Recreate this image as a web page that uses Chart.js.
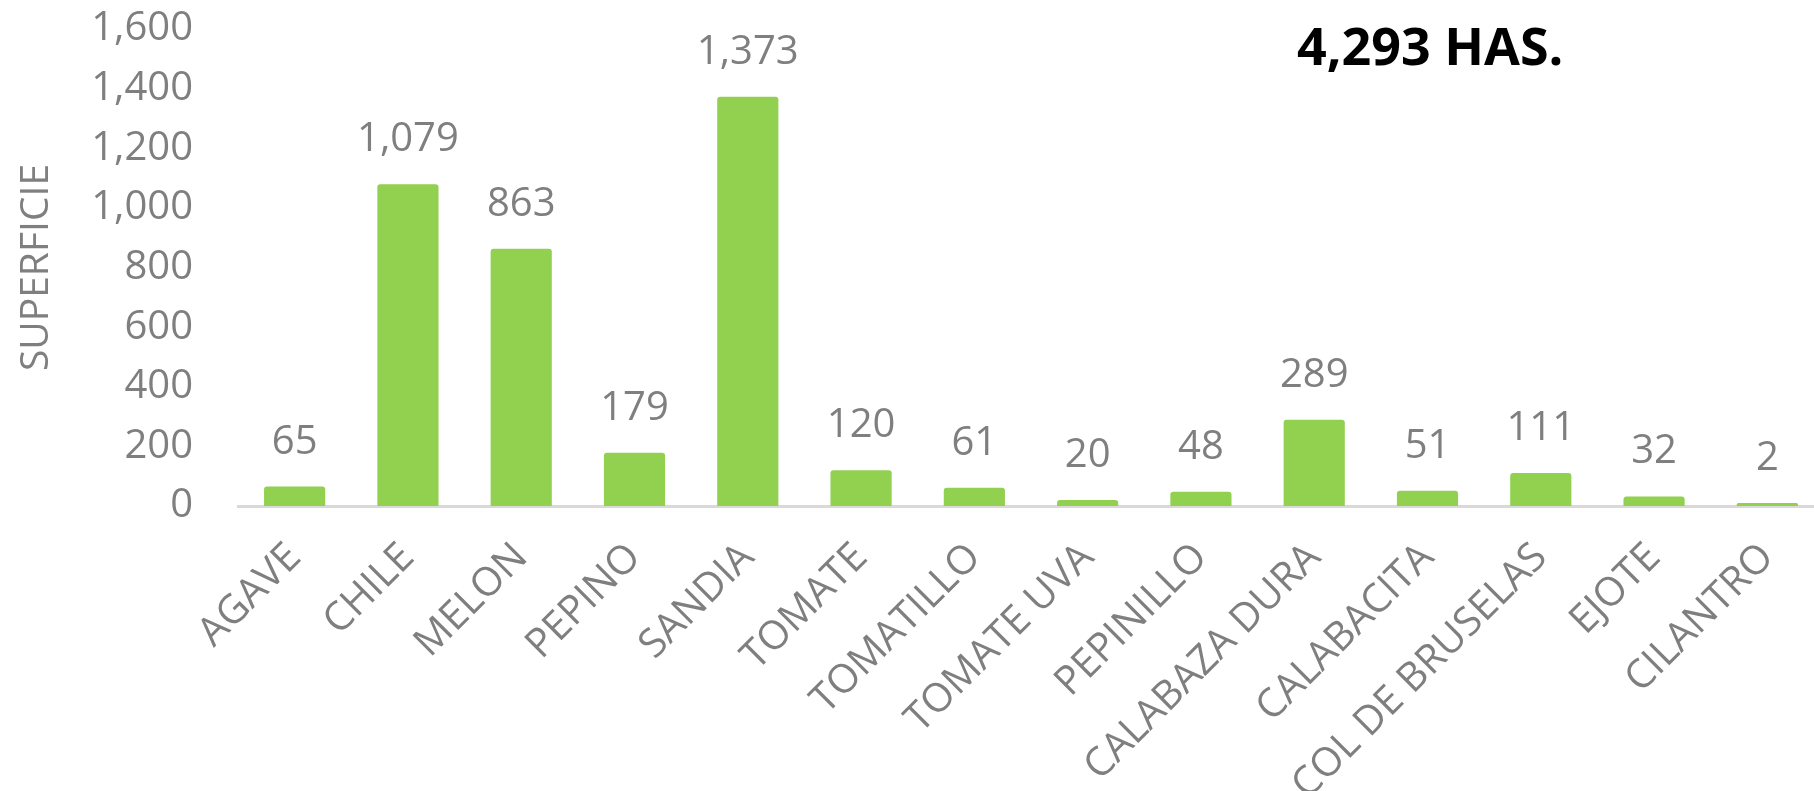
<!DOCTYPE html>
<html>
<head>
<meta charset="utf-8">
<script src="https://cdn.jsdelivr.net/npm/chart.js@4"></script>
<style>
  html, body { margin: 0; padding: 0; background: #fff; overflow: hidden; }
  canvas { display: block; }
</style>
</head>
<body>
<canvas id="superficieChart" width="1824" height="791"></canvas>
<script>
const cultivos = ['AGAVE', 'CHILE', 'MELON', 'PEPINO', 'SANDIA', 'TOMATE', 'TOMATILLO', 'TOMATE UVA',
    'PEPINILLO', 'CALABAZA DURA', 'CALABACITA', 'COL DE BRUSELAS', 'EJOTE', 'CILANTRO'];
const superficie = [65, 1079, 863, 179, 1373, 120, 61, 20, 48, 289, 51, 111, 32, 2];
const yTicks = [0, 200, 400, 600, 800, 1000, 1200, 1400, 1600];

const gris = '#7f7f7f';
const fuente = 'Open Sans';
const total = superficie.reduce((a, b) => a + b, 0);

// etiquetas sobre cada barra + total en la esquina
const etiquetas = {
    id: 'etiquetas',
    afterDatasetsDraw(chart) {
        const ctx = chart.ctx;
        ctx.save();
        ctx.fillStyle = gris;
        ctx.font = '40px "' + fuente + '"';
        ctx.textAlign = 'center';
        ctx.textBaseline = 'alphabetic';
        chart.getDatasetMeta(0).data.forEach((bar, i) => {
            ctx.fillText(superficie[i].toLocaleString('en-US'), bar.x, bar.y - 33);
        });
        ctx.fillStyle = '#000';
        ctx.font = 'bold 52px "' + fuente + '"';
        ctx.textAlign = 'left';
        ctx.fillText(total.toLocaleString('en-US') + ' HAS.', 1297, 65);
        ctx.restore();
    }
};

const ctx = document.getElementById('superficieChart').getContext('2d');
const superficieChart = new Chart(ctx, {
    type: 'bar',
    data: {
        labels: cultivos,
        datasets: [{
            label: 'Superficie',
            data: superficie,
            backgroundColor: '#92d050',
            borderRadius: { topLeft: 3, topRight: 3 },
            borderSkipped: 'bottom',
            barPercentage: 0.54,
            categoryPercentage: 1,
            minBarLength: 3
        }]
    },
    options: {
        responsive: false,
        devicePixelRatio: 1,
        animation: false,
        layout: { padding: { top: 29, left: 0, right: 0, bottom: 0 } },
        plugins: {
            legend: { display: false },
            tooltip: { enabled: false }
        },
        scales: {
            x: {
                grid: { display: false, drawTicks: false },
                border: { display: true, color: '#d9d9d9', width: 3 },
                ticks: {
                    color: gris,
                    font: { family: fuente, size: 40 },
                    minRotation: 45,
                    maxRotation: 45,
                    autoSkip: false,
                    padding: 28
                },
                afterFit(scale) {
                    scale.height = 285;
                    scale.paddingLeft = 0;
                    scale.paddingRight = 0;
                }
            },
            y: {
                min: 0,
                max: 1600,
                grid: { display: false, drawTicks: false },
                border: { display: false },
                afterBuildTicks(scale) { scale.ticks = yTicks.map(v => ({ value: v })); },
                ticks: {
                    color: gris,
                    font: { family: fuente, size: 40 },
                    padding: 45,
                    callback: v => v.toLocaleString('en-US')
                },
                title: {
                    display: true,
                    text: 'SUPERFICIE',
                    color: gris,
                    font: { family: fuente, size: 39 },
                    padding: { top: 13, bottom: 0 }
                },
                afterFit(scale) {
                    scale.width = 238;
                    scale.paddingTop = 0;
                    scale.paddingBottom = 0;
                }
            }
        }
    },
    plugins: [etiquetas]
});
</script>
</body>
</html>
